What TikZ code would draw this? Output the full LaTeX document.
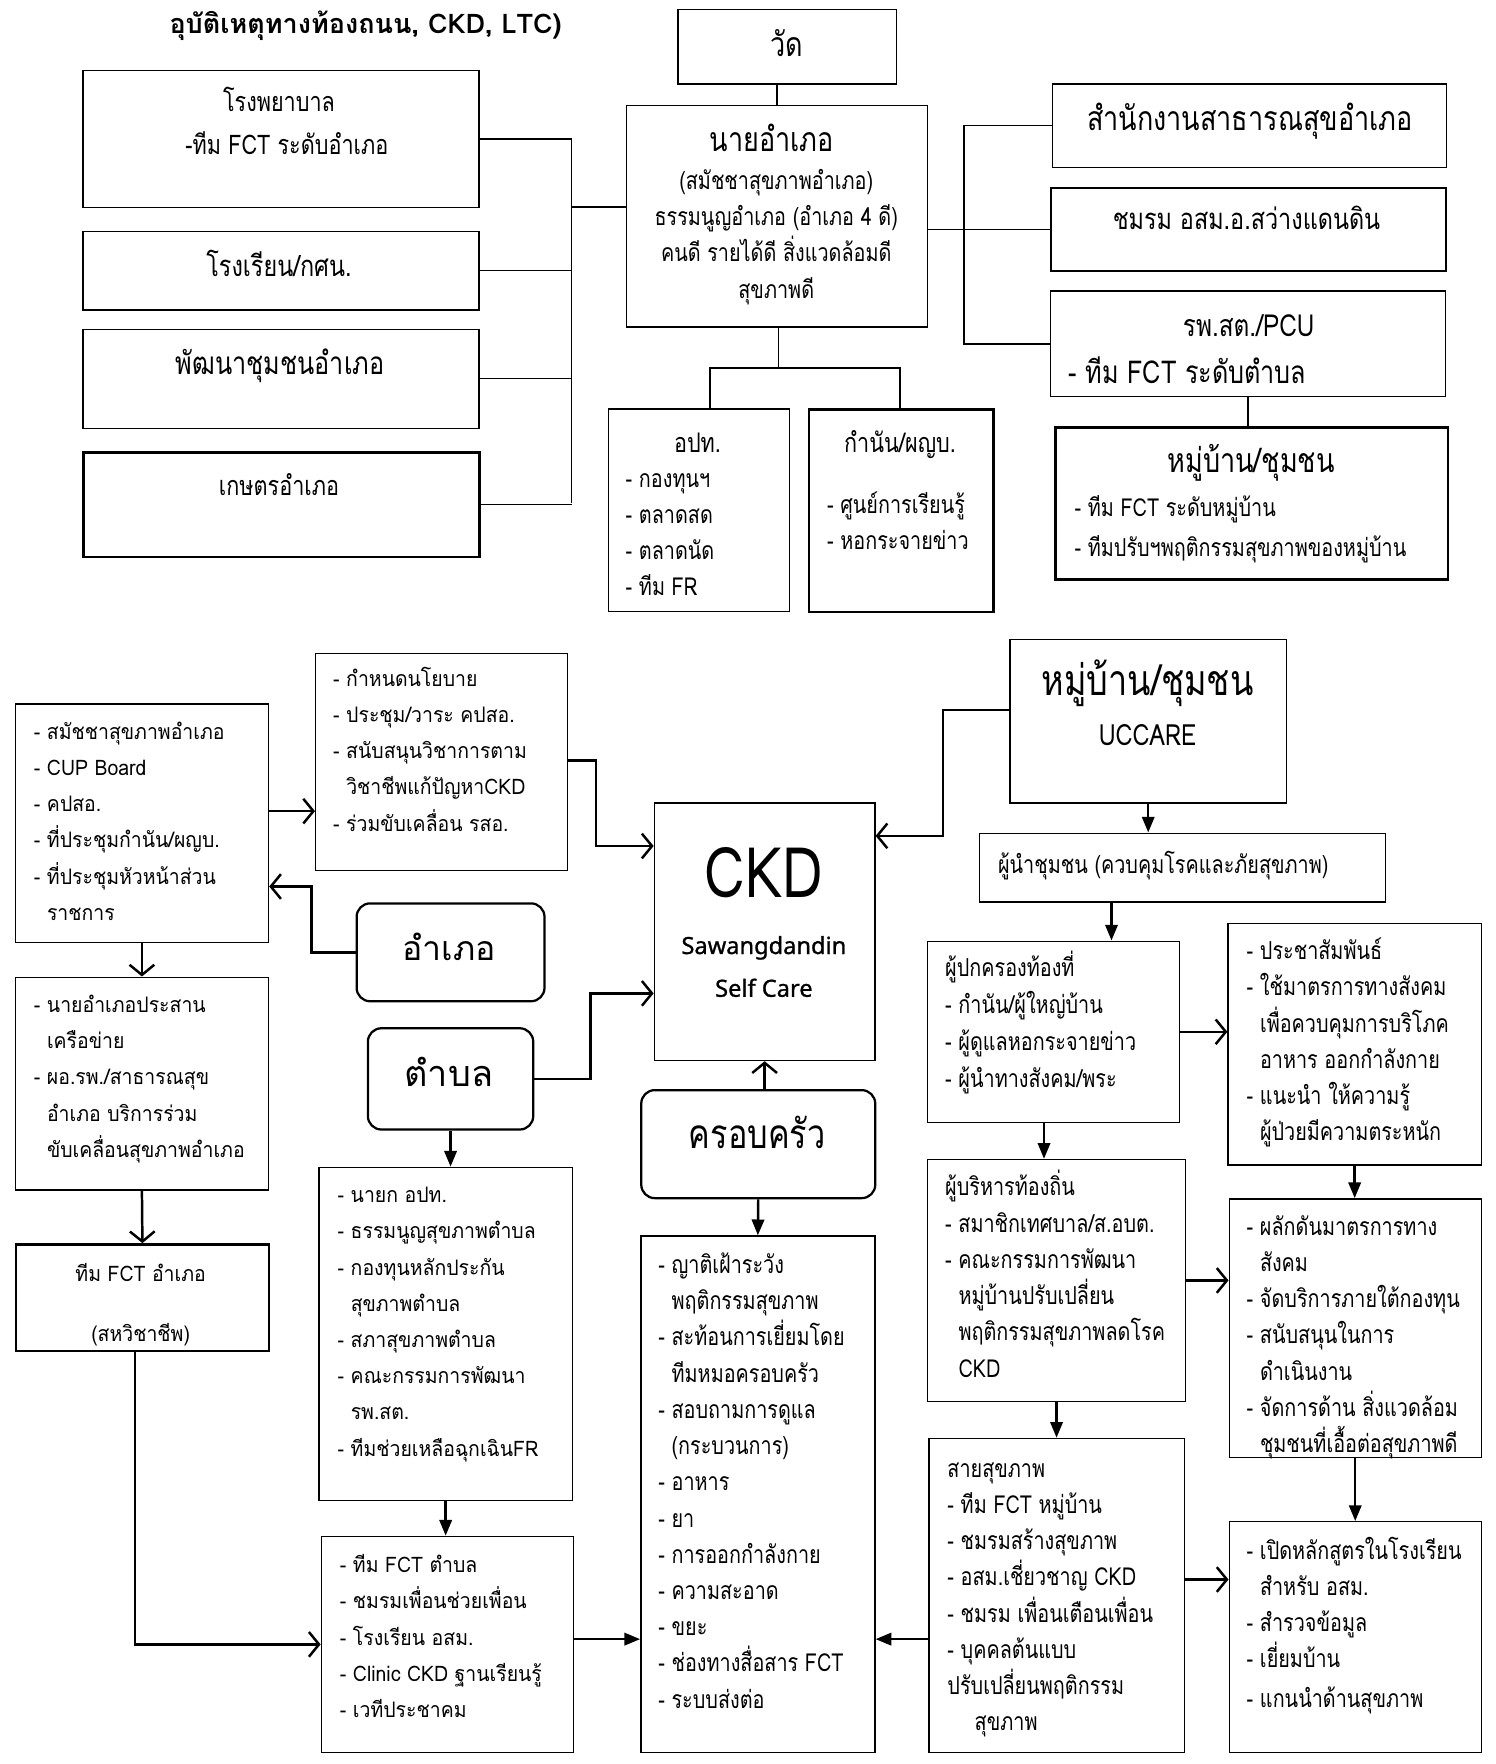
\documentclass[tikz,border=0pt]{standalone}
\usepackage{fontspec}
\setmainfont[Script=Thai]{Loma}
\newfontfamily\thl[Script=Thai]{Loma}
\newfontfamily\thn[Script=Thai,FakeStretch=0.91]{Loma}
\newfontfamily\thc[Script=Thai,FakeStretch=0.8]{Loma}
\newfontfamily\latf[FakeBold=1]{Noto Sans}
\usetikzlibrary{arrows.meta}
\newcommand\cfnt[1]{\thc\fontsize{#1}{#1}\selectfont}
\newcommand\lfnt[1]{\thl\fontsize{#1}{#1}\selectfont}
\newcommand\clist{\thc\fontsize{22}{32.2}\selectfont}
\newcommand\llist{\thn\fontsize{19}{32.2}\selectfont}
\newcommand\ind{\phantom{- }}
\begin{document}
\begin{tikzpicture}[x=1pt,y=-1pt,
  box/.style={draw, line width=1.3pt, inner sep=0pt, anchor=north west},
  tbox/.style={box, line width=2.2pt},
  rbox/.style={box, line width=2pt, rounded corners=12pt},
  ct/.style={anchor=base, inner sep=0pt},
  lst/.style={anchor=base west, inner sep=0pt},
  tl/.style={draw, line width=1.3pt},
  oa/.style={draw, line width=2.2pt, -{Straight Barb[length=9pt,width=22pt,line width=2.2pt]}},
  fa/.style={draw, line width=2.2pt, -{Triangle[length=14pt,width=11pt]}}]
\useasboundingbox[fill=white] (0,0) rectangle (1329,1568);

% ---------- top section ----------
\node[ct, font=\thl\bfseries\fontsize{24}{28}\selectfont] (title) at (325,30) {อุบัติเหตุทางท้องถนน, CKD, LTC)};

\node[box, minimum width=352pt, minimum height=122pt] (hosp) at (73,62) {};
\node[box, minimum width=352pt, minimum height=70pt] (school) at (73,205) {};
\node[box, minimum width=352pt, minimum height=88pt] (dev) at (73,292) {};
\node[tbox, minimum width=352pt, minimum height=93pt] (agri) at (73,401) {};
\node[box, minimum width=194pt, minimum height=66pt] (wat) at (602,8) {};
\node[box, minimum width=268pt, minimum height=197pt] (nay) at (556,93) {};
\node[box, minimum width=350pt, minimum height=74pt] (office) at (935,74) {};
\node[tbox, minimum width=351pt, minimum height=74pt] (club) at (933,166) {};
\node[box, minimum width=351pt, minimum height=94pt] (rph) at (933,258) {};
\node[tbox, minimum width=349pt, minimum height=135pt] (vill) at (937,379) {};
\node[box, minimum width=161pt, minimum height=180pt] (opt) at (540,363) {};
\node[tbox, minimum width=164pt, minimum height=180pt] (kam) at (718,363) {};

\node[ct, font=\cfnt{24}] (hosp-t1) at (248,99) {โรงพยาบาล};
\node[ct, font=\cfnt{24}] (hosp-t2) at (255,137) {-ทีม FCT ระดับอำเภอ};
\node[ct, font=\cfnt{26}] (school-t) at (248,246) {โรงเรียน/กศน.};
\node[ct, font=\cfnt{28}] (dev-t) at (249,333) {พัฒนาชุมชนอำเภอ};
\node[ct, font=\cfnt{24}] (agri-t) at (248,440) {เกษตรอำเภอ};
\node[ct, font=\cfnt{30}] (wat-t) at (699,50) {วัด};
\node[ct, font=\cfnt{30}] (nay-t1) at (686,135) {นายอำเภอ};
\node[ct, font=\cfnt{22}] (nay-t2) at (690,168) {(สมัชชาสุขภาพอำเภอ)};
\node[ct, font=\cfnt{22}] (nay-t3) at (690,200) {ธรรมนูญอำเภอ (อำเภอ 4 ดี)};
\node[ct, font=\cfnt{22}] (nay-t4) at (690,232) {คนดี รายได้ดี สิ่งแวดล้อมดี};
\node[ct, font=\cfnt{22}] (nay-t5) at (690,265) {สุขภาพดี};
\node[ct, font=\cfnt{30}] (office-t) at (1111,116) {สำนักงานสาธารณสุขอำเภอ};
\node[ct, font=\cfnt{26}] (club-t) at (1108,204) {ชมรม อสม.อ.สว่างแดนดิน};
\node[ct, font=\cfnt{27}] (rph-t1) at (1110,299) {รพ.สต./PCU};
\node[lst, font=\cfnt{28}] (rph-t2) at (950,341) {- ทีม FCT ระดับตำบล};
\node[ct, font=\cfnt{30}] (vill-t1) at (1112,420) {หมู่บ้าน/ชุมชน};
\node[lst, font=\thc\fontsize{22}{36}\selectfont] (vill-t2) at (955,459) {\parbox[t]{330pt}{- ทีม FCT ระดับหมู่บ้าน\\- ทีมปรับฯพฤติกรรมสุขภาพของหมู่บ้าน}};
\node[ct, font=\cfnt{24}] (opt-t1) at (620,402) {อปท.};
\node[lst, font=\clist] (opt-t2) at (556,433) {\parbox[t]{140pt}{- กองทุนฯ\\- ตลาดสด\\- ตลาดนัด\\- ทีม FR}};
\node[ct, font=\cfnt{24}] (kam-t1) at (800,402) {กำนัน/ผญบ.};
\node[lst, font=\clist] (kam-t2) at (735,456) {\parbox[t]{140pt}{- ศูนย์การเรียนรู้\\- หอกระจายข่าว}};

% top connectors
\coordinate (busLt) at (508,123);
\coordinate (busLb) at (508,447);
\coordinate (busLm) at (508,184);
\draw[tl] (hosp.east) -- (hosp.east -| busLt);
\draw[tl] (busLt) -- (busLb);
\draw[tl] (school.east) -- (school.east -| busLt);
\draw[tl] (dev.east) -- (dev.east -| busLt);
\draw[tl] (agri.east) -- (agri.east -| busLt);
\draw[tl] (busLm) -- (busLm -| nay.west);
\draw[tl] (nay.north) -- (nay.north |- wat.south);
\coordinate (busR) at (857,0);
\draw[tl] (office.west) -- (office.west -| busR) -- (rph.west -| busR) -- (rph.west);
\draw[tl] (nay.east |- club.west) -- (club.west);
\draw[tl] (rph.south) -- (rph.south |- vill.north);
\coordinate (sM) at (692,327);
\coordinate (sL) at (631,327);
\coordinate (sR) at (800,327);
\draw[tl] (nay.south -| sM) -- (sM);
\draw[tl] (sL |- opt.north) -- (sL) -- (sR) -- (sR |- kam.north);

% ---------- bottom section ----------
\node[box, minimum width=225pt, minimum height=212pt] (A) at (13,625) {};
\node[box, minimum width=224pt, minimum height=193pt] (B) at (280,580) {};
\node[rbox, minimum width=167pt, minimum height=87pt] (amp) at (316,802) {};
\node[box, minimum width=225pt, minimum height=189pt] (C) at (13,868) {};
\node[tbox, minimum width=225pt, minimum height=95pt] (D) at (13,1105) {};
\node[box, minimum width=196pt, minimum height=229pt] (ckd) at (581,713) {};
\node[rbox, minimum width=147pt, minimum height=90pt] (tam) at (326,913) {};
\node[box, minimum width=246pt, minimum height=145pt] (ucc) at (897,568) {};
\node[box, minimum width=361pt, minimum height=61pt] (lead) at (870,740) {};
\node[box, minimum width=224pt, minimum height=161pt] (gov) at (824,836) {};
\node[box, minimum width=225pt, minimum height=215pt] (pr) at (1091,820) {};
\node[box, minimum width=229pt, minimum height=215pt] (adm) at (824,1030) {};
\node[box, minimum width=224pt, minimum height=230pt] (push) at (1092,1065) {};
\node[box, minimum width=227pt, minimum height=279pt] (hl) at (825,1278) {};
\node[box, minimum width=224pt, minimum height=205pt] (course) at (1092,1352) {};
\node[rbox, minimum width=208pt, minimum height=96pt] (fam) at (569,968) {};
\node[box, minimum width=208pt, minimum height=459pt] (fl) at (569,1098) {};
\node[box, minimum width=225pt, minimum height=296pt] (E) at (283,1037) {};
\node[box, minimum width=224pt, minimum height=192pt] (F) at (285,1365) {};

\node[lst, font=\llist] (A-t) at (30,657) {\parbox[t]{210pt}{- สมัชชาสุขภาพอำเภอ\\- CUP Board\\- คปสอ.\\- ที่ประชุมกำนัน/ผญบ.\\- ที่ประชุมหัวหน้าส่วน\\\ind ราชการ}};
\node[lst, font=\llist] (B-t) at (296,610) {\parbox[t]{210pt}{- กำหนดนโยบาย\\- ประชุม/วาระ คปสอ.\\- สนับสนุนวิชาการตาม\\\ind วิชาชีพแก้ปัญหาCKD\\- ร่วมขับเคลื่อน รสอ.}};
\node[ct, font=\lfnt{30}] (amp-t) at (399,854) {อำเภอ};
\node[lst, font=\llist] (C-t) at (30,900) {\parbox[t]{210pt}{- นายอำเภอประสาน\\\ind เครือข่าย\\- ผอ.รพ./สาธารณสุข\\\ind อำเภอ บริการร่วม\\\ind ขับเคลื่อนสุขภาพอำเภอ}};
\node[ct, font=\thn\fontsize{19}{19}\selectfont] (D-t1) at (125,1139) {ทีม FCT อำเภอ};
\node[ct, font=\thn\fontsize{19}{19}\selectfont] (D-t2) at (125,1192) {(สหวิชาชีพ)};
\node[ct, font=\cfnt{62}] (ckd-t1) at (679,798) {CKD};
\node[ct, font=\latf\fontsize{21}{21}\selectfont] (ckd-t2) at (679,848) {Sawangdandin};
\node[ct, font=\latf\fontsize{21}{21}\selectfont] (ckd-t3) at (679,886) {Self Care};
\node[ct, font=\lfnt{32}] (tam-t) at (399,966) {ตำบล};
\node[ct, font=\cfnt{38}] (ucc-t1) at (1020,618) {หมู่บ้าน/ชุมชน};
\node[ct, font=\cfnt{26}] (ucc-t2) at (1020,663) {UCCARE};
\node[lst, font=\cfnt{22}] (lead-t) at (887,776) {ผู้นำชุมชน (ควบคุมโรคและภัยสุขภาพ)};
\node[lst, font=\thc\fontsize{22}{33}\selectfont] (gov-t) at (840,868) {\parbox[t]{200pt}{ผู้ปกครองท้องที่\\- กำนัน/ผู้ใหญ่บ้าน\\- ผู้ดูแลหอกระจายข่าว\\- ผู้นำทางสังคม/พระ}};
\node[lst, font=\clist] (pr-t) at (1108,853) {\parbox[t]{200pt}{- ประชาสัมพันธ์\\- ใช้มาตรการทางสังคม\\\ind เพื่อควบคุมการบริโภค\\\ind อาหาร ออกกำลังกาย\\- แนะนำ ให้ความรู้\\\ind ผู้ป่วยมีความตระหนัก}};
\node[lst, font=\clist] (adm-t) at (840,1063) {\parbox[t]{210pt}{ผู้บริหารท้องถิ่น\\- สมาชิกเทศบาล/ส.อบต.\\- คณะกรรมการพัฒนา\\\ind หมู่บ้านปรับเปลี่ยน\\\ind พฤติกรรมสุขภาพลดโรค\\\ind CKD}};
\node[lst, font=\clist] (push-t) at (1108,1098) {\parbox[t]{210pt}{- ผลักดันมาตรการทาง\\\ind สังคม\\- จัดบริการภายใต้กองทุน\\- สนับสนุนในการ\\\ind ดำเนินงาน\\- จัดการด้าน สิ่งแวดล้อม\\\ind ชุมชนที่เอื้อต่อสุขภาพดี}};
\node[lst, font=\clist] (hl-t) at (842,1313) {\parbox[t]{210pt}{สายสุขภาพ\\- ทีม FCT หมู่บ้าน\\- ชมรมสร้างสุขภาพ\\- อสม.เชี่ยวชาญ CKD\\- ชมรม เพื่อนเตือนเพื่อน\\- บุคคลต้นแบบ\\ปรับเปลี่ยนพฤติกรรม\\\hspace*{1.1em}สุขภาพ}};
\node[lst, font=\clist] (course-t) at (1108,1386) {\parbox[t]{210pt}{- เปิดหลักสูตรในโรงเรียน\\\ind สำหรับ อสม.\\- สำรวจข้อมูล\\- เยี่ยมบ้าน\\[3pt]- แกนนำด้านสุขภาพ}};
\node[ct, font=\cfnt{36}] (fam-t) at (673,1021) {ครอบครัว};
\node[lst, font=\clist] (fl-t) at (585,1132) {\parbox[t]{190pt}{- ญาติเฝ้าระวัง\\\ind พฤติกรรมสุขภาพ\\- สะท้อนการเยี่ยมโดย\\\ind ทีมหมอครอบครัว\\- สอบถามการดูแล\\\ind (กระบวนการ)\\- อาหาร\\- ยา\\- การออกกำลังกาย\\- ความสะอาด\\- ขยะ\\- ช่องทางสื่อสาร FCT\\- ระบบส่งต่อ}};
\node[lst, font=\llist] (E-t) at (300,1069) {\parbox[t]{210pt}{- นายก อปท.\\- ธรรมนูญสุขภาพตำบล\\- กองทุนหลักประกัน\\\ind สุขภาพตำบล\\- สภาสุขภาพตำบล\\- คณะกรรมการพัฒนา\\\ind รพ.สต.\\- ทีมช่วยเหลือฉุกเฉินFR}};
\node[lst, font=\llist] (F-t) at (302,1398) {\parbox[t]{210pt}{- ทีม FCT ตำบล\\- ชมรมเพื่อนช่วยเพื่อน\\- โรงเรียน อสม.\\- Clinic CKD ฐานเรียนรู้\\- เวทีประชาคม}};

% bottom connectors
\coordinate (yab) at (0,721);
\draw[oa] (A.east |- yab) -- (B.west |- yab);
\coordinate (k1) at (277,788);
\draw[oa] (amp.west) -| (k1) -- (A.east |- k1);
\draw[oa] (A.south) -- (C.north);
\draw[oa] (C.south) -- (D.north);
\coordinate (x120) at (120,0);
\draw[oa] (D.south -| x120) |- (F.west);
\coordinate (y676) at (0,676);
\coordinate (k2) at (530,752);
\draw[oa] (B.east |- y676) -| (k2) -- (ckd.west |- k2);
\coordinate (k3) at (525,883);
\draw[oa] (tam.east) -| (k3) -- (ckd.west |- k3);
\coordinate (y631) at (0,631);
\coordinate (k4) at (838,743);
\draw[oa] (ucc.west |- y631) -| (k4) -- (ckd.east |- k4);
\draw[fa] (ucc.south) -- (ucc.south |- lead.north);
\coordinate (x988) at (988,0);
\draw[fa] (lead.south -| x988) -- (gov.north -| x988);
\draw[oa] (gov.east) -- (gov.east -| pr.west);
\coordinate (x928) at (928,0);
\draw[fa] (gov.south -| x928) -- (adm.north -| x928);
\draw[oa] (adm.east) -- (adm.east -| push.west);
\draw[fa] (pr.south) -- (pr.south |- push.north);
\draw[fa] (adm.south) -- (adm.south |- hl.north);
\coordinate (y1404) at (0,1404);
\draw[oa] (hl.east |- y1404) -- (course.west |- y1404);
\draw[fa] (push.south) -- (push.south |- course.north);
\coordinate (y1457) at (0,1457);
\draw[fa] (hl.west |- y1457) -- (fl.east |- y1457);
\draw[oa] (fam.north -| ckd.south) -- (ckd.south);
\draw[fa] (fam.south) -- (fl.north);
\draw[fa] (tam.south) -- (tam.south |- E.north);
\draw[fa] (E.south) -- (E.south |- F.north);
\draw[fa] (F.east |- y1457) -- (fl.west |- y1457);
\end{tikzpicture}
\end{document}
